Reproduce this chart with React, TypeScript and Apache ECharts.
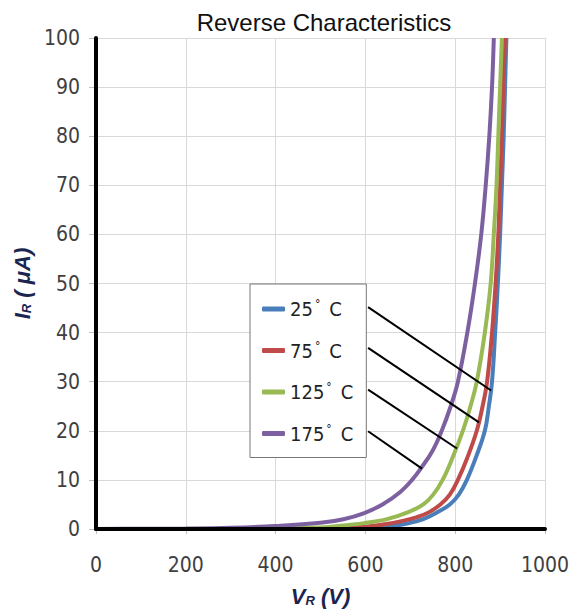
import React, { useEffect, useRef } from "react";
import * as echarts from "echarts";

const legendNames = ["25° C", "75° C", "125° C", "175° C"];
const seriesColors = ["#4A7EBB", "#BE4B48", "#98B954", "#7D60A0"];

const curve25: [number, number][] = [
  [0, 0], [300, 0], [550, 0.05], [648, 0.5], [697, 1.2], [729, 2], [762, 3.5], [788, 5], [808, 7],
  [826, 10], [847, 14.8], [866, 20], [875, 25], [882, 30], [889, 40], [895, 50], [900, 60], [904, 70], [908, 80], [911, 90], [914, 100],
];
const curve75: [number, number][] = [
  [0, 0], [300, 0], [500, 0.1], [603, 0.5], [647, 1.0], [699, 2], [737, 3.2], [767, 5], [788, 7],
  [806, 10], [827, 14.5], [848, 20], [861, 25], [871, 30], [882, 40], [890, 50], [896, 60], [900, 70], [904, 80], [907, 90], [911, 100],
];
const curve125: [number, number][] = [
  [0, 0], [200, 0], [400, 0.1], [500, 0.3], [528, 0.5], [597, 1.2], [648, 2], [697, 3.5], [729, 5], [751, 7],
  [772, 10], [794, 14.5], [817, 20], [834, 25], [848, 30], [866, 40], [879, 50], [886, 60], [892, 70], [896, 80], [900, 90], [904, 100],
];
const curve175: [number, number][] = [
  [0, 0], [100, 0.05], [200, 0.1], [300, 0.25], [400, 0.6], [500, 1.25], [551, 2], [596, 3.2], [638, 5],
  [677, 7.5], [704, 10], [724, 12.4], [750, 16], [770, 20], [790, 25], [806, 30], [827, 40],
  [844, 50], [858, 60], [868, 70], [876, 80], [882, 90], [886, 100],
];
const curves = [curve25, curve75, curve125, curve175];

// leader lines from the legend box to each curve
const leaders: [number, number][][] = [
  [[606, 45.2], [880, 28.2]],
  [[606, 36.9], [853, 21.7]],
  [[606, 28.4], [804, 16.4]],
  [[606, 19.9], [726, 12.3]],
];

const narrow = "'Liberation Sans Narrow', 'DejaVu Sans Condensed', sans-serif";
const arial = "'Liberation Sans', Arial, sans-serif";

export default function App() {
  const ref = useRef<HTMLDivElement>(null);
  useEffect(() => {
    if (!ref.current) return;
    const chart = echarts.init(ref.current, null, { renderer: "svg" });
    const nameRich = {
      i: { fontStyle: "italic", fontWeight: "bold", fontSize: 22, color: "#1B2550", fontFamily: arial },
      sub: { fontStyle: "italic", fontWeight: "bold", fontSize: 13, color: "#1B2550", padding: [9, 0, 0, 0], fontFamily: arial },
    };
    const legendRich = {
      t: { fontSize: 20, color: "#222", fontFamily: narrow, lineHeight: 21 },
      d: { fontSize: 12, color: "#222", fontFamily: narrow, verticalAlign: "top", padding: [0, 9, 10, 2] },
    };
    chart.setOption({
      animation: false,
      title: {
        text: "Reverse Characteristics",
        left: 319,
        top: 5,
        textAlign: "center",
        textStyle: { fontSize: 24, fontWeight: "normal", color: "#111", fontFamily: arial },
      },
      grid: { left: 96, right: 31, top: 38, bottom: 81 },
      legend: {
        orient: "vertical",
        left: 250,
        top: 284,
        data: legendNames,
        icon: "roundRect",
        itemWidth: 23,
        itemHeight: 5,
        itemGap: 20.5,
        padding: [14, 13, 14, 12],
        backgroundColor: "#fff",
        borderColor: "#777",
        borderWidth: 1,
        borderRadius: 0,
        selectedMode: false,
        formatter: (name: string) => {
          const [num, c] = name.split("° ");
          return `{t|${num}}{d|°}{t|${c}}`;
        },
        textStyle: { rich: legendRich, fontSize: 20 },
      },
      xAxis: [
        {
          type: "value",
          min: 0,
          max: 1000,
          interval: 200,
          name: "{i|V}{sub|R}{i| (V)}",
          nameLocation: "middle",
          nameGap: 56,
          nameTextStyle: { rich: nameRich },
          axisLine: { show: false },
          axisTick: { show: true, length: 5, lineStyle: { color: "#BFBFBF" } },
          axisLabel: { margin: 25, fontSize: 21, color: "#404040", fontFamily: narrow, formatter: (v: number) => String(v) },
          splitLine: { show: true, lineStyle: { color: "#D9D9D9", width: 1 } },
        },
        {
          type: "value",
          min: 0,
          max: 1000,
          position: "bottom",
          z: 5,
          axisLine: { show: true, onZero: false, lineStyle: { color: "#000", width: 4 } },
          axisTick: { show: false },
          axisLabel: { show: false },
          splitLine: { show: false },
        },
      ],
      yAxis: [
        {
          type: "value",
          min: 0,
          max: 100,
          interval: 10,
          name: "{i|I}{sub|R}{i| ( μA)}",
          nameLocation: "middle",
          nameRotate: 90,
          nameGap: 60,
          nameTextStyle: { rich: nameRich },
          axisLine: { show: false },
          axisTick: { show: true, length: 7, lineStyle: { color: "#BFBFBF" } },
          axisLabel: { margin: 16, fontSize: 21, color: "#404040", fontFamily: narrow },
          splitLine: { show: true, lineStyle: { color: "#D9D9D9", width: 1 } },
        },
        {
          type: "value",
          min: 0,
          max: 100,
          position: "left",
          z: 5,
          axisLine: { show: true, onZero: false, lineStyle: { color: "#000", width: 4 } },
          axisTick: { show: false },
          axisLabel: { show: false },
          splitLine: { show: false },
        },
      ],
      series: [
        ...curves.map((d, i) => ({
          name: legendNames[i],
          type: "line",
          data: d,
          smooth: 0.4,
          showSymbol: false,
          symbol: "none",
          color: seriesColors[i],
          itemStyle: { color: seriesColors[i] },
          lineStyle: { color: seriesColors[i], width: 4 },
          z: 2,
        })),
        ...leaders.map((d) => ({
          type: "line",
          data: d,
          showSymbol: false,
          symbol: "none",
          silent: true,
          lineStyle: { color: "#000", width: 2 },
          z: 3,
        })),
      ],
    });
    return () => chart.dispose();
  }, []);
  return <div ref={ref} style={{ position: "absolute", left: 0, top: 0, width: 576, height: 612 }} />;
}
